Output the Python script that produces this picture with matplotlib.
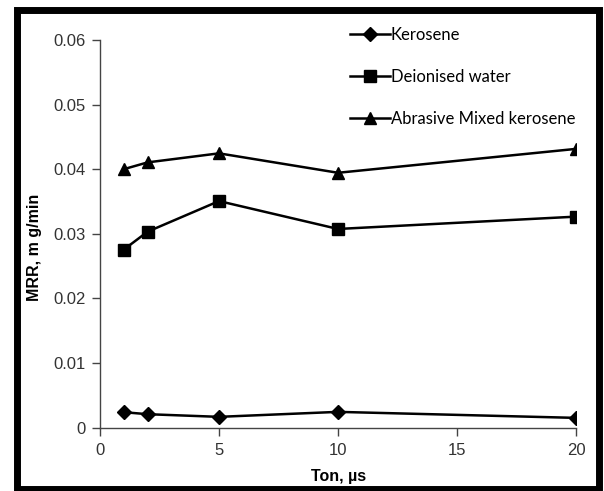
import matplotlib
matplotlib.use("Agg")
import matplotlib.pyplot as plt
from matplotlib.patches import Rectangle

ton = [1, 2, 5, 10, 20]
kerosene = [0.00237, 0.00206, 0.00165, 0.00242, 0.00149]
deionised = [0.02755, 0.03032, 0.03506, 0.03074, 0.03265]
abrasive = [0.0400, 0.04105, 0.04245, 0.03944, 0.04314]
series_labels = ["Kerosene", "Deionised water", "Abrasive Mixed kerosene"]
xticks = [0, 5, 10, 15, 20]
yticks = [0, 0.01, 0.02, 0.03, 0.04, 0.05, 0.06]
ytick_labels = ["0", "0.01", "0.02", "0.03", "0.04", "0.05", "0.06"]

W, H = 604, 491
fig = plt.figure(figsize=(W / 100, H / 100), dpi=100)
ax = fig.add_axes([100 / W, 1 - 427.5 / H, 476 / W, 387.5 / H])

tick_font = ["Liberation Sans", "DejaVu Sans"]
leg_font = ["Lato", "DejaVu Sans"]

l1, = ax.plot(ton, kerosene, color="black", lw=1.8, marker="D", ms=7)
l2, = ax.plot(ton, deionised, color="black", lw=1.8, marker="s", ms=8)
l3, = ax.plot(ton, abrasive, color="black", lw=1.8, marker="^", ms=9)

ax.set_xlim(0, 20)
ax.set_ylim(0, 0.06)
ax.set_xticks(xticks)
ax.set_xticklabels([str(v) for v in xticks], family=tick_font, fontsize=12, color="#333333")
ax.set_yticks(yticks)
ax.set_yticklabels(ytick_labels, family=tick_font, fontsize=12, color="#333333")
ax.tick_params(axis="both", direction="out", length=6, width=1.0, color="#444444")
ax.tick_params(axis="x", pad=5)
ax.tick_params(axis="y", pad=4)
for s in ["top", "right"]:
    ax.spines[s].set_visible(False)
for s in ["left", "bottom"]:
    ax.spines[s].set_color("#444444")
    ax.spines[s].set_linewidth(1.0)

fig.text(339 / W, 1 - 476 / H, "Ton, µs", ha="center", va="center",
         fontsize=11.5, fontweight="bold", family=["Liberation Sans", "DejaVu Sans"])
fig.text(34 / W, 1 - 247 / H, "MRR, m g/min", ha="center", va="center", rotation=90,
         fontsize=11.5, fontweight="bold", family=["Liberation Sans", "DejaVu Sans"])

leg = fig.legend([l1, l2, l3], series_labels, loc="upper left",
                 bbox_to_anchor=(335 / W, 1 - 12 / H), frameon=False,
                 prop={"family": leg_font, "size": 12},
                 handlelength=2.4, handletextpad=0.05, labelspacing=1.55,
                 markerscale=1.0)

fig.patches.append(Rectangle((16.5 / W, 1 - 489 / H), 582 / W, 479.5 / H,
                             transform=fig.transFigure, fill=False,
                             edgecolor="black", linewidth=5))

fig.savefig("out.png", dpi=100)
